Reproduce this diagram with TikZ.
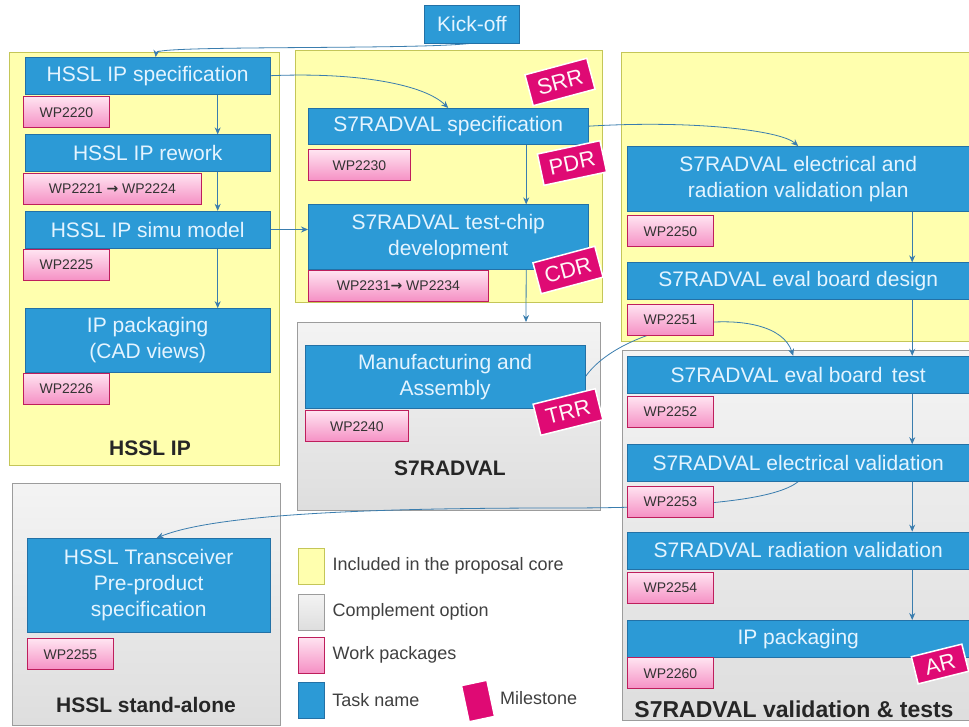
\documentclass[tikz,border=0pt]{standalone}
\usepackage{fontspec}
\setmainfont{Liberation Sans}
\newfontfamily\arrowfont{DejaVu Sans}
\usepackage{xcolor}
\usepackage{tikz}
\usetikzlibrary{positioning,arrows.meta}
\definecolor{taskblue}{HTML}{2C9AD6}
\definecolor{taskline}{HTML}{2371A6}
\definecolor{tasktext}{HTML}{E4F4FF}
\definecolor{wptop}{HTML}{FFE4F1}
\definecolor{wpbot}{HTML}{F590C4}
\definecolor{wpline}{HTML}{BE1E5C}
\definecolor{milefill}{HTML}{DF0A74}
\definecolor{coreyellow}{HTML}{FFFFAE}
\definecolor{coreline}{HTML}{C4C658}
\definecolor{optgray}{HTML}{ECECEC}
\definecolor{optline}{HTML}{9C9C9C}
\definecolor{linkblue}{HTML}{3A7DAE}
\pgfdeclarelayer{panel}
\pgfdeclarelayer{link}
\pgfsetlayers{panel,link,main}
\newcommand{\wparrow}{{\arrowfont\bfseries →}}

\begin{document}
\begin{tikzpicture}[x=1pt, y=-1pt,
  task/.style={draw=taskline, fill=taskblue, text=tasktext, align=center,
               font=\fontsize{21}{26}\selectfont, inner sep=2pt, minimum height=37pt},
  wp/.style={draw=wpline, thick, top color=wptop, bottom color=wpbot, text=black!80,
             font=\fontsize{14}{16}\selectfont, minimum width=86pt, minimum height=31pt, inner sep=3pt},
  mile/.style={draw=white, line width=1.5pt, fill=milefill, text=white!88!pink,
               font=\fontsize{22}{24}\selectfont, minimum width=64pt, minimum height=32pt, inner sep=1pt},
  core/.style={draw=coreline, thick, fill=coreyellow},
  opt/.style={draw=optline, thick, top color=optgray!60, bottom color=optgray!94!black},
  paneltitle/.style={font=\fontsize{21}{24}\selectfont\bfseries, text=black!85},
  legendbox/.style={minimum width=26pt, minimum height=36pt, inner sep=0pt},
  keytext/.style={font=\fontsize{18}{21}\selectfont, text=black!75, anchor=west, inner sep=0pt},
  arr/.style={-{Stealth[length=7pt, width=6pt]}, thick, linkblue}
]
  \useasboundingbox (0,0) rectangle (969,727);
  \begin{pgfonlayer}{panel}
    \fill[white] (0,0) rectangle (969,727);
    \draw[core] (9,52) rectangle (279,465);
    \draw[core] (295,50) rectangle (602,302);
    \draw[core] (621,52) rectangle (975,341);
    \draw[opt] (297,322) rectangle (600,510);
    \draw[opt] (622,350) rectangle (975,720);
    \draw[opt] (12,483) rectangle (280,725);
  \end{pgfonlayer}

  \node[task, minimum width=95pt, minimum height=38pt] (kick) at (472,24) {Kick-off};

  \node[task, minimum width=245pt, anchor=north west] (hspec) at (25,57) {HSSL IP specification};
  \node[wp, below=2pt of hspec.south west, anchor=north west, xshift=-2pt] (wp20) {WP2220};
  \node[task, minimum width=245pt, below=40pt of hspec] (hrew) {HSSL IP rework};
  \node[wp, minimum width=178pt, below=1pt of hrew.south west, anchor=north west, xshift=-2pt] (wp21) {WP2221 \wparrow{} WP2224};
  \node[task, minimum width=245pt, below=39pt of hrew] (hsim) {HSSL IP simu model};
  \node[wp, below=1pt of hsim.south west, anchor=north west, xshift=-2pt] (wp25) {WP2225};
  \node[task, minimum width=245pt, minimum height=64pt, below=60pt of hsim] (hpack) {IP packaging\\(CAD views)};
  \node[wp, below=0pt of hpack.south west, anchor=north west, xshift=-2pt] (wp26) {WP2226};
  \node[paneltitle] (thssl) at (150,448) {HSSL IP};

  \node[task, minimum width=280pt, minimum height=36pt, anchor=north west] (sspec) at (308,108) {S7RADVAL specification};
  \node[wp, minimum width=102pt, below=5pt of sspec.south west, anchor=north west] (wp30) {WP2230};
  \node[task, minimum width=280pt, minimum height=65pt, below=60pt of sspec] (sdev) {S7RADVAL test-chip\\development};
  \node[wp, minimum width=180pt, below=0pt of sdev.south west, anchor=north west] (wp31) {WP2231\wparrow{} WP2234};
  \node[task, minimum width=280pt, minimum height=63pt, anchor=north west] (manu) at (305,345) {Manufacturing and\\Assembly};
  \node[wp, minimum width=103pt, below=2pt of manu.south west, anchor=north west] (wp40) {WP2240};
  \node[paneltitle] (ts7) at (450,468) {S7RADVAL};

  \node[task, minimum width=342pt, minimum height=65pt, anchor=north west] (vplan) at (627,146) {S7RADVAL electrical and\\radiation validation plan};
  \node[wp, below=4pt of vplan.south west, anchor=north west] (wp50) {WP2250};
  \node[task, minimum width=342pt, below=51pt of vplan] (vboard) {S7RADVAL eval board design};
  \node[wp, below=4pt of vboard.south west, anchor=north west] (wp51) {WP2251};
  \node[task, minimum width=342pt, below=56pt of vboard] (vtest) {S7RADVAL eval board\,\ test};
  \node[wp, below=3pt of vtest.south west, anchor=north west] (wp52) {WP2252};
  \node[task, minimum width=342pt, below=51pt of vtest] (velec) {S7RADVAL electrical validation};
  \node[wp, below=4pt of velec.south west, anchor=north west] (wp53) {WP2253};
  \node[task, minimum width=342pt, below=50pt of velec] (vrad) {S7RADVAL radiation validation};
  \node[wp, below=3pt of vrad.south west, anchor=north west] (wp54) {WP2254};
  \node[task, minimum width=342pt, below=51pt of vrad] (vpack) {IP packaging};
  \node[wp, below=0pt of vpack.south west, anchor=north west] (wp60) {WP2260};
  \node[paneltitle, font=\fontsize{23}{26}\selectfont\bfseries] (tval) at (794,709) {S7RADVAL validation \& tests};

  \node[task, minimum width=243pt, minimum height=94pt, anchor=north west] (htrx) at (27,538) {HSSL Transceiver\\Pre-product\\specification};
  \node[wp, below=6pt of htrx.south west, anchor=north west] (wp55) {WP2255};
  \node[paneltitle] (tstand) at (146,705) {HSSL stand-alone};

  \node[mile, rotate=15] (srr) at (560,82) {SRR};
  \node[mile, rotate=12] (pdr) at (572,163) {PDR};
  \node[mile, rotate=15] (cdr) at (568,270) {CDR};
  \node[mile, rotate=14] (trr) at (568,412) {TRR};
  \node[mile, rotate=14, minimum width=52pt, minimum height=28pt] (ar) at (940,664) {AR};

  \node[legendbox, draw=coreline, thick, fill=coreyellow] (lcore) at (311,566) {};
  \node[keytext, right=8pt of lcore] (tcore) {Included in the proposal core};
  \node[legendbox, draw=optline, thick, top color=optgray!60, bottom color=optgray!94!black] (lopt) at (311,612) {};
  \node[keytext, right=8pt of lopt] (topt) {Complement option};
  \node[legendbox, draw=wpline, thick, top color=wptop, bottom color=wpbot] (lwp) at (311,655) {};
  \node[keytext, right=8pt of lwp] (twp) {Work packages};
  \node[legendbox, draw=taskline, fill=taskblue] (ltask) at (311,700) {};
  \node[keytext, right=8pt of ltask] (ttask) {Task name};
  \node[mile, rotate=12, minimum width=26pt, minimum height=37pt] (lmile) at (478,701) {};
  \node[keytext] (tmile) at (500,698) {Milestone};

  \begin{pgfonlayer}{link}
    \draw[arr] (kick.south) .. controls (420,50) and (157,45) .. ([xshift=8pt]hspec.north);
    \draw[arr] (hspec.east) .. controls (360,72) and (425,85) .. (sspec.north);
    \draw[arr] (sspec.east) .. controls (690,120) and (780,130) .. (vplan.north);
    \draw[arr] (hsim.east) -- (hsim.east -| sdev.west);
    \draw[arr] ([xshift=70pt]hspec.south) -- ([xshift=70pt]hrew.north);
    \draw[arr] ([xshift=70pt]hrew.south) -- ([xshift=70pt]hsim.north);
    \draw[arr] ([xshift=70pt]hsim.south) -- ([xshift=70pt]hpack.north);
    \draw[arr] ([xshift=78pt]sspec.south) -- ([xshift=78pt]sdev.north);
    \coordinate (mtop) at (526,322);
    \draw[arr] ([xshift=78pt]sdev.south) -- (mtop);
    \draw[arr] ([xshift=114pt]vplan.south) -- ([xshift=114pt]vboard.north);
    \draw[arr] ([xshift=114pt]vboard.south) -- ([xshift=114pt]vtest.north);
    \draw[arr] ([xshift=114pt]vtest.south) -- ([xshift=114pt]velec.north);
    \draw[arr] ([xshift=114pt]velec.south) -- ([xshift=114pt]vrad.north);
    \draw[arr] ([xshift=114pt]vrad.south) -- ([xshift=114pt]vpack.north);
    \draw[arr] (manu.east) .. controls (625,320) and (775,300) .. ([xshift=-5pt]vtest.north);
    \draw[arr] (velec.south) .. controls (770,505) and (650,508) .. (560,508)
               .. controls (400,508) and (220,512) .. ([xshift=8pt]htrx.north);
  \end{pgfonlayer}
\end{tikzpicture}
\end{document}
